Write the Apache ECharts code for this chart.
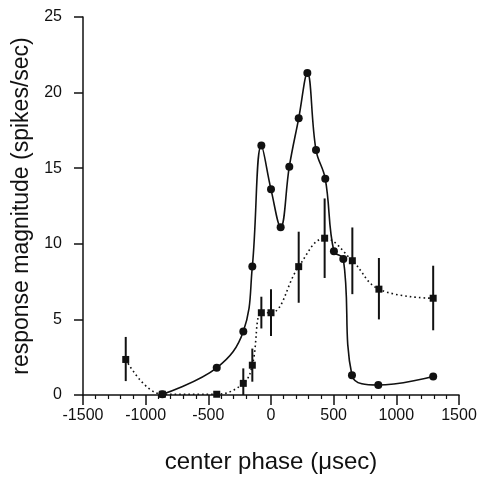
<!DOCTYPE html>
<html>
<head>
<meta charset="utf-8">
<script src="https://cdn.jsdelivr.net/npm/echarts@6/dist/echarts.min.js"></script>
<style>
  html, body { margin: 0; padding: 0; background: #fff; }
  #chart { width: 481px; height: 479px; }
</style>
</head>
<body>
<div id="chart"></div>
<script>
// circles, solid line
const phaseA = [-867, -433, -221, -149, -77, 0, 77, 146, 221, 290, 359, 433, 502, 577, 646, 856, 1294]
const respA = [0.05, 1.8, 4.2, 8.5, 16.5, 13.6, 11.1, 15.1, 18.3, 21.3, 16.2, 14.3, 9.5, 9.0, 1.3, 0.66, 1.23]

// squares, dotted line, with error bars
const phaseB = [-1159, -867, -433, -221, -149, -77, 0, 221, 428, 649, 861, 1294]
const respB = [2.35, 0.05, 0.05, 0.77, 1.97, 5.44, 5.44, 8.49, 10.37, 8.88, 7.0, 6.4]
const errLow = [0.92, null, null, 0, 0.88, 4.4, 3.9, 6.1, 7.74, 6.67, 5.0, 4.28]
const errHigh = [3.84, null, null, 1.76, 3.07, 6.5, 7.0, 10.8, 13.0, 11.08, 9.06, 8.55]

const font = 'Liberation Sans, Arial, Helvetica, sans-serif'

const chart = echarts.init(document.getElementById('chart'))

const pairs = (xs, ys) => xs.map((x, i) => [x, ys[i]])
const errData = phaseB
  .map((x, i) => [x, errLow[i], errHigh[i]])
  .filter(d => d[1] !== null)

chart.setOption({
  animation: false,
  grid: { left: 83, right: 22, top: 17, bottom: 82 },
  xAxis: {
    type: 'value',
    min: -1500,
    max: 1500,
    interval: 500,
    name: 'center phase (\u03bcsec)',
    nameLocation: 'middle',
    nameGap: 55,
    nameTextStyle: { fontFamily: font, fontSize: 24, color: '#111' },
    axisLine: { show: true, onZero: false, lineStyle: { color: '#111', width: 1.5 } },
    axisTick: { show: true, length: 10, lineStyle: { color: '#111', width: 1.5 } },
    minorTick: { show: true, splitNumber: 5, length: 4, lineStyle: { color: '#111', width: 1.2 } },
    splitLine: { show: false },
    axisLabel: { fontFamily: font, fontSize: 16, color: '#111', margin: 13, formatter: v => String(v) }
  },
  yAxis: {
    type: 'value',
    min: 0,
    max: 25,
    interval: 5,
    name: 'response magnitude (spikes/sec)',
    nameLocation: 'middle',
    nameGap: 50,
    nameTextStyle: { fontFamily: font, fontSize: 23, color: '#111' },
    axisLine: { show: true, onZero: false, lineStyle: { color: '#111', width: 1.5 } },
    axisTick: { show: true, length: 9, lineStyle: { color: '#111', width: 1.5 } },
    splitLine: { show: false },
    axisLabel: { fontFamily: font, fontSize: 16, color: '#111', margin: 21 }
  },
  series: [
    {
      type: 'custom',
      data: errData,
      renderItem: (params, api) => {
        const top = api.coord([api.value(0), api.value(2)])
        const bot = api.coord([api.value(0), api.value(1)])
        return {
          type: 'line',
          shape: { x1: top[0], y1: top[1], x2: bot[0], y2: bot[1] },
          style: { stroke: '#111', lineWidth: 2 }
        }
      },
      z: 2
    },
    {
      type: 'line',
      data: pairs(phaseB, respB),
      smooth: 0.4,
      symbol: 'rect',
      symbolSize: 7,
      itemStyle: { color: '#111' },
      lineStyle: { color: '#111', width: 1.6, type: [1.6, 3] },
      z: 3
    },
    {
      type: 'line',
      data: pairs(phaseA, respA),
      smooth: 0.4,
      symbol: 'circle',
      symbolSize: 8,
      itemStyle: { color: '#111' },
      lineStyle: { color: '#111', width: 1.6 },
      z: 4
    }
  ]
})
</script>
</body>
</html>
